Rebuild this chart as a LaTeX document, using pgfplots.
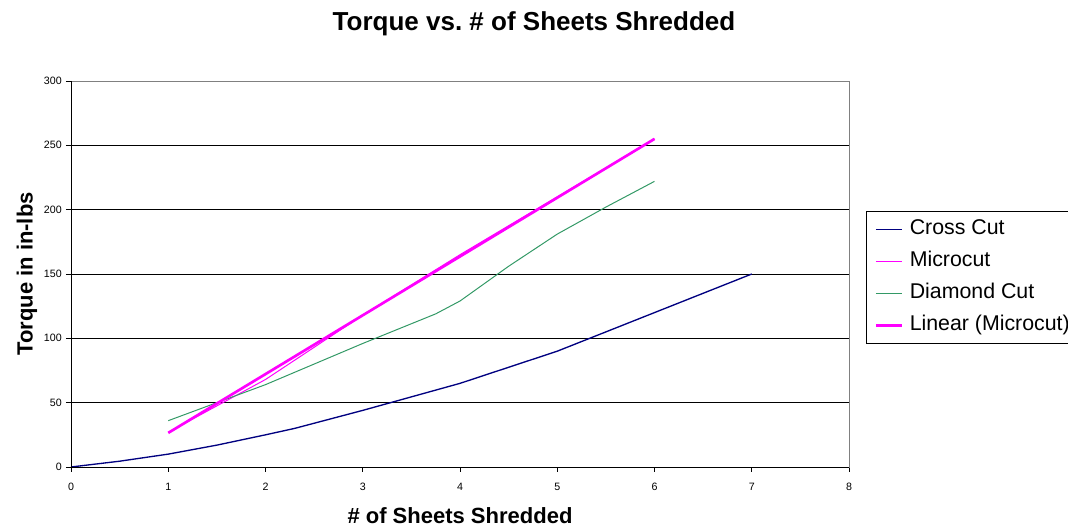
\documentclass[border=0pt]{standalone}
\usepackage{fontspec}
\setmainfont{Liberation Sans}
\usepackage{pgfplots}
\pgfplotsset{compat=1.18}

\definecolor{ccnavy}{RGB}{0,0,128}
\definecolor{mcmagenta}{RGB}{255,0,255}
\definecolor{dcgreen}{RGB}{51,153,102}

\begin{document}
\begin{tikzpicture}
% 1 px of the reference = 0.75pt
\begin{axis}[
    at={(53.25pt,45pt)}, anchor=south west,
    scale only axis,
    width=583.5pt, height=289.5pt,
    xmin=0, xmax=8, ymin=0, ymax=300,
    xtick={0,1,...,8}, ytick={0,50,...,300},
    ymajorgrids, major grid style={black, line width=0.6pt},
    axis line style={gray, line width=0.6pt},
    tick align=outside, tick pos=left,
    major tick length=3.75pt,
    tick style={black, line width=0.6pt},
    /pgf/number format/assume math mode=true,
    ticklabel style={font=\fontsize{8}{9.6}\selectfont},
    yticklabel style={inner sep=0pt, anchor=east, xshift=-3pt},
    xticklabel style={inner sep=0pt, anchor=north, yshift=-8pt},
    xlabel={\# of Sheets Shredded},
    ylabel={Torque in in-lbs},
    label style={font=\bfseries\fontsize{16.5}{19}\selectfont},
    xlabel style={at={(axis description cs:0.5,-0.127)}, anchor=center},
    ylabel style={at={(axis description cs:-0.0565,0.5)}, anchor=center},
    legend cell align=left,
    legend image code/.code={\draw[#1] (0pt,0pt) -- (19.5pt,0pt);},
    legend style={
        at={(axis description cs:1.0219,0.663)}, anchor=north west,
        draw=black, line width=0.6pt,
        font=\fontsize{16}{19}\selectfont,
        inner xsep=6pt, inner ysep=6pt,
        row sep=9pt, column sep=5pt,
        nodes={inner sep=0pt, text height=11.5pt, text depth=3.5pt},
    },
]
\addplot[color=ccnavy, line width=1pt] coordinates {
    (0,0) (0.5,4.5) (1,10) (1.5,17) (2,25) (2.3,30) (3,44)
    (4,65) (5,90) (6,120) (7,150)};
\addplot[color=mcmagenta, line width=0.75pt] coordinates {
    (1,27) (2,68) (3,118) (4,165) (5,210) (6,255)};
\addplot[color=dcgreen, line width=0.75pt] coordinates {
    (1,36) (2,64) (3,96) (3.75,119) (4,129) (4.5,156) (5,181) (5.5,202) (6,222)};
\addplot[color=mcmagenta, line width=2pt] coordinates {
    (1,26.5) (6,255)};
\legend{Cross Cut, Microcut, Diamond Cut, Linear (Microcut)}
\end{axis}
\draw[black, line width=0.6pt] (53.25pt,334.5pt) -- (53.25pt,45pt) -- (636.75pt,45pt);
\node[font=\bfseries\fontsize{19.5}{23}\selectfont] at (400.5pt,377.25pt)
    {Torque vs.\ \# of Sheets Shredded};
\pgfresetboundingbox
\path[use as bounding box] (0,0) rectangle (801pt,395.25pt);
\end{tikzpicture}
\end{document}
